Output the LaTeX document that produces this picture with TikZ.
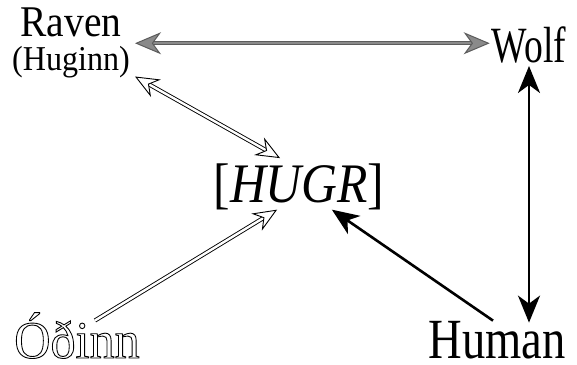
\documentclass[tikz,border=0pt]{standalone}
\usetikzlibrary{arrows.meta,positioning,calc}
\usepackage{xcolor}
\usepackage{fontspec}
\setmainfont{Liberation Serif}
\definecolor{midgray}{HTML}{8A8A8A}
\definecolor{edgegray}{HTML}{5C5C5C}
% hollow (outlined) letters
\newcommand{\hollowtext}[1]{\special{pdf:literal q 1 Tr 0.9 w}#1\special{pdf:literal Q}}
\tikzset{
  word/.style={inner sep=0pt, align=center},
  greytip/.tip={Stealth[length=26bp,width=22bp,inset=8bp,fill=midgray]},
  opentip/.tip={Stealth[open,fill=white,length=24bp,width=20bp,inset=8bp]},
  heavytip/.tip={Stealth[length=27bp,width=22bp,inset=8bp]},
  greyarrow/.style={greytip-greytip, draw=edgegray, double=midgray, double distance=2.4bp, line width=1bp},
  openarrow/.style={opentip-opentip, double=white, double distance=2.4bp, line width=0.9bp},
  openarrowone/.style={openarrow, -opentip},
  heavyarrow/.style={-heavytip, line width=2.6bp},
  heavyarrowtwo/.style={heavyarrow, heavytip-heavytip}
}
\begin{document}
\begin{tikzpicture}[x=1bp, y=-1bp]
  \useasboundingbox (0,0) rectangle (577,364);
  \node[word, anchor=north, font=\fontsize{44}{34}\selectfont] (raven) at (71,8) {\scalebox{0.9}[1]{Raven}\\{\fontsize{35}{34}\selectfont\scalebox{0.92}[1]{(Huginn)}}};
  \node[word, anchor=base, xscale=0.74, font=\fontsize{51}{51}\selectfont] (wolf) at (529,62) {Wolf};
  \node[word, anchor=base, xscale=0.89, font=\fontsize{56}{56}\selectfont] (hugr) at (299,202) {[\textit{HUGR}]};
  \node[word, anchor=base, xscale=0.95, font=\fontsize{53}{53}\selectfont] (odinn) at (77,358) {\hollowtext{Óðinn}};
  \node[word, anchor=base, xscale=0.82, font=\fontsize{57}{57}\selectfont] (human) at (497,358) {Human};
  % links
  \draw[greyarrow, shorten <=5bp, shorten >=2bp] (raven.east) -- (raven.east -| wolf.west);
  \draw[heavyarrowtwo, shorten <=3bp, shorten >=-2bp] (wolf.south) -- (wolf.south |- human.north);
  \draw[openarrow] ([shift={(5,-2)}]raven.south east) -- ([shift={(-19,-5)}]hugr.north);
  \draw[openarrowone] ([shift={(18,8)}]odinn.north) -- ([xshift=-22]hugr.south);
  \draw[heavyarrow] ([xshift=-4]human.north) -- ([xshift=33]hugr.south);
\end{tikzpicture}
\end{document}
